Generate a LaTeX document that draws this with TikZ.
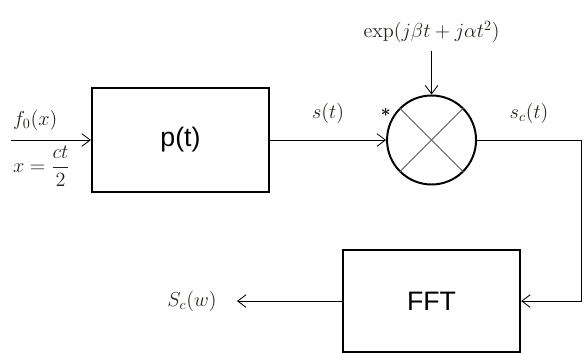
\documentclass[tikz,border=0pt]{standalone}
\usepackage{amsmath}
\usepackage{fontspec}
\setsansfont{Liberation Sans}
\usepackage{xcolor}
\usepackage{tikz}
\usetikzlibrary{arrows.meta,positioning}

\definecolor{labeltext}{RGB}{38,33,28}

\begin{document}
\begin{tikzpicture}[
    blockbox/.style={draw, line width=1.4pt, minimum width=4.43cm, minimum height=2.62cm, font=\sffamily\fontsize{19}{23}\selectfont},
    mixer/.style={draw, line width=1.4pt, circle, minimum size=2.225cm, inner sep=0pt},
    lbl/.style={text=labeltext, font=\Large},
    line/.style={semithick},
    arrow/.style={-{Straight Barb[length=6pt,width=9pt]}, semithick}
]
\useasboundingbox (-4.5125,3.5) rectangle (10.1375,-5.325);

\node[blockbox] (pt) {p(t)};
\node[mixer, right=2.9cm of pt] (mix) {};
\node[blockbox, minimum height=2.53cm, below=1.6cm of mix] (fft) {FFT};

\coordinate[left=2cm of pt] (in);
\coordinate[above=1.1cm of mix] (chirpin);
\coordinate[right=2.6cm of mix] (corner);
\coordinate[left=2.625cm of fft] (out);

\node[lbl, above right=3pt and -2pt of in] (fx) {$f_0(x)$};
\node[lbl, below right=1pt and -2pt of in] (xct) {$x=\dfrac{ct}{2}$};
\node[lbl, above=2pt of chirpin] (chirp) {$\exp(j\beta t+j\alpha t^2)$};
\node[lbl, left=11pt of out] (spec) {$S_c(w)$};
\node[anchor=east, inner sep=0pt, xshift=-6pt, yshift=-3pt, font=\large] (star) at (mix.135) {$\boldsymbol{\ast}$};

\draw[black!65, semithick] (mix.45) -- (mix.225);
\draw[black!65, semithick] (mix.135) -- (mix.315);

\draw[arrow] (in) -- (pt);
\draw[arrow] (pt) -- node[lbl, above=8pt] {$s(t)$} (mix);
\draw[arrow] (chirpin) -- (mix);
\draw[line] (mix) -- node[lbl, above=8pt] {$s_c(t)$} (corner);
\draw[arrow] (corner) |- (fft);
\draw[arrow] (fft) -- (out);
\end{tikzpicture}
\end{document}
